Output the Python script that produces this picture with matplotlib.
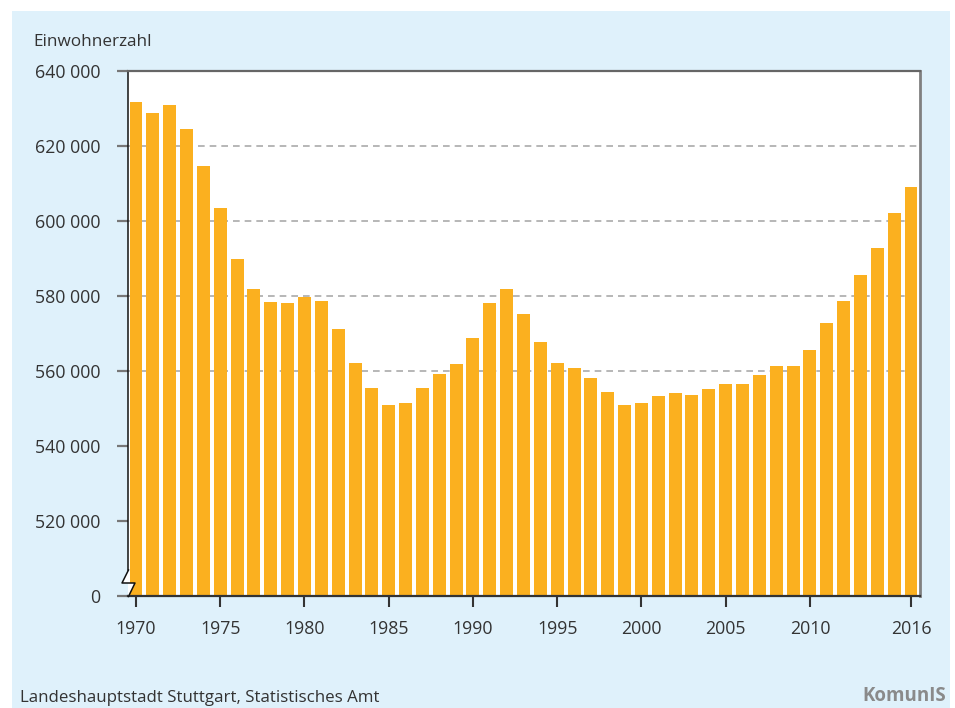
import matplotlib.pyplot as plt
from matplotlib.patches import Rectangle, Polygon
from matplotlib.lines import Line2D

# Einwohnerzahl Stuttgart 1970-2016
years = list(range(1970, 2017))
population = [
    631700, 628800, 630900, 624500, 614700, 603500, 589900, 581900, 578400, 578100,
    579700, 578700, 571200, 562100, 555500, 550900, 551500, 555500, 559200, 561900,
    568800, 578100, 581900, 575200, 567700, 562100, 560800, 558100, 554400, 550900,
    551500, 553300, 554100, 553600, 555200, 556500, 556500, 558900, 561300, 561300,
    565600, 572800, 578700, 585600, 592800, 602100, 609100,
]
xticks = [1970, 1975, 1980, 1985, 1990, 1995, 2000, 2005, 2010, 2016]
yticks = [500000, 520000, 540000, 560000, 580000, 600000, 620000, 640000]
grid_levels = [560000, 580000, 600000, 620000]

W, H = 955, 708
BG = "#dff1fb"
BAR = "#fbb01f"
TXT = "#333333"

plt.rcParams["font.family"] = ["Open Sans", "DejaVu Sans"]

fig = plt.figure(figsize=(W / 100, H / 100), dpi=100)


def fx(px):
    return px / W


def fy(py):
    return 1 - py / H


# light blue panel
fig.patches.append(Rectangle((fx(12), 0), fx(950) - fx(12), fy(11), transform=fig.transFigure,
                             facecolor=BG, edgecolor="none", zorder=-5))

ax = fig.add_axes([fx(128), fy(596), fx(920) - fx(128), fy(71) - fy(596)])
ax.set_zorder(1)
ax.set_facecolor("white")

for g in grid_levels:
    ax.axhline(g, color="#aaaaaa", lw=1.2, ls=(0, (4, 3)), zorder=1)

ax.bar(years, population, width=0.77, color=BAR, zorder=2)

ax.set_xlim(1969.525, 2016.534)
ax.set_ylim(500000, 640000)

ax.set_xticks(xticks)
ax.set_xticklabels([str(x) for x in xticks])
ax.set_yticks(yticks)
ylabels = [f"{v:,}".replace(",", " ") for v in yticks]
ylabels[0] = "0"
ax.set_yticklabels(ylabels)

ax.tick_params(axis="x", direction="out", length=8, width=1.5, color=TXT,
               labelsize=12.8, labelcolor=TXT, pad=9)
ax.tick_params(axis="y", direction="out", length=8, width=1.6, color="#777777",
               labelsize=12.8, labelcolor=TXT, pad=12)

ax.spines["top"].set_color("#666666")
ax.spines["top"].set_linewidth(1.6)
ax.spines["right"].set_color("#808080")
ax.spines["right"].set_linewidth(2)
ax.spines["bottom"].set_color(TXT)
ax.spines["bottom"].set_linewidth(1.6)
ax.spines["left"].set_color("#111111")
ax.spines["left"].set_linewidth(1.1)
ax.spines["left"].set_bounds(506900, 640000)
for s in ax.spines.values():
    s.set_zorder(5)

# axis break symbol
A = (fx(128.5), fy(570))
B = (fx(122), fy(583))
C = (fx(135), fy(583))
D = (fx(128.5), fy(596.5))
fig.patches.append(Polygon([A, B, C, D], closed=True, transform=fig.transFigure,
                           facecolor="white", edgecolor="none", zorder=6))
fig.lines.append(Line2D([A[0], B[0], C[0], D[0]], [A[1], B[1], C[1], D[1]],
                        transform=fig.transFigure, color="#111111", lw=1.1, zorder=7))

fig.text(fx(33), fy(42), "Einwohnerzahl", fontsize=12.3, color=TXT, va="center", ha="left")
fig.text(fx(20), fy(698), "Landeshauptstadt Stuttgart, Statistisches Amt", fontsize=12.2,
         color=TXT, va="center", ha="left")
fig.text(fx(946), fy(696), "KomunIS", fontsize=13.5, color="#8a8a8a", fontweight="bold",
         va="center", ha="right")

fig.savefig("out.png", dpi=100, facecolor="white")
